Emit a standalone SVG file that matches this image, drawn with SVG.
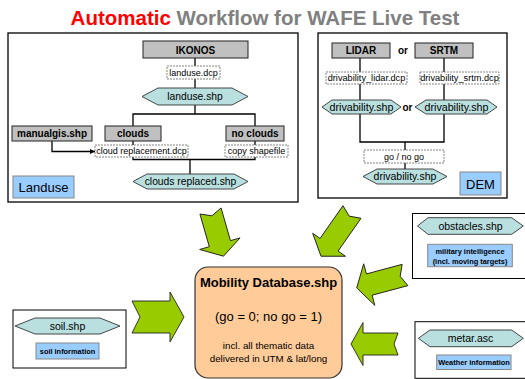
<svg xmlns="http://www.w3.org/2000/svg" width="525" height="379" viewBox="0 0 525 379">
<defs>
<marker id="ah" viewBox="0 0 6 6" refX="6" refY="3" markerWidth="5" markerHeight="5" orient="auto" markerUnits="userSpaceOnUse">
<path d="M0,0 L6,3 L0,6 Z" fill="#000"/>
</marker>
</defs>
<style>
text{font-family:"Liberation Sans",Arial,sans-serif;text-anchor:middle;fill:#000}
.panel{fill:#fff;stroke:#000;stroke-width:1.3}
.gray{fill:#c0c0c0;stroke:#222;stroke-width:1}
.dcp{fill:#fff;stroke:#777;stroke-width:0.9;stroke-dasharray:2 1}
.hex{fill:#b9dfdf;stroke:#333;stroke-width:0.9}
.lbl{fill:#99ccff;stroke:#888;stroke-width:1}
.arr{fill:#99cc00;stroke:#222;stroke-width:0.9;stroke-linejoin:miter}
.ln{fill:none;stroke:#000;stroke-width:1.3}
.b10{font-size:10px;font-weight:bold}
.t9{font-size:9px}
.t10{font-size:10.3px}
.b7{font-size:7.4px;font-weight:bold}
</style>
<rect width="525" height="379" fill="#fff"/>

<g id="title">
<text x="265" y="24.5" style="font-size:20.5px;font-weight:bold"><tspan fill="#ff0000">Automatic</tspan><tspan fill="#808080"> Workflow for WAFE Live Test</tspan></text>
</g>

<g id="landuse-panel">
<rect class="panel" x="8" y="33" width="290" height="169"/>
</g>
<g id="dem-panel">
<rect class="panel" x="318" y="33" width="189" height="165"/>
</g>

<g id="connectors">
<line class="ln" x1="195" y1="58" x2="195" y2="66"/>
<line class="ln" x1="195" y1="79" x2="195" y2="88"/>
<polyline class="ln" points="195,105 195,114"/>
<polyline class="ln" points="133,126 133,114 255,114 255,126"/>
<line class="ln" x1="133" y1="141" x2="133" y2="145"/>
<line class="ln" x1="255" y1="141" x2="255" y2="145"/>
<polyline class="ln" points="133,157 133,159.5 255,159.5 255,157"/>
<line class="ln" x1="190" y1="159.5" x2="190" y2="174"/>
<polyline class="ln" points="52,141 52,151.5 95,151.5" stroke-width="1" marker-end="url(#ah)"/>
<line class="ln" x1="360" y1="58" x2="360" y2="72"/>
<line class="ln" x1="444" y1="58" x2="444" y2="72"/>
<line class="ln" x1="360" y1="84" x2="360" y2="100"/>
<line class="ln" x1="444" y1="84" x2="444" y2="100"/>
<polyline class="ln" points="360,114 360,142 444,142 444,114"/>
<line class="ln" x1="405" y1="142" x2="405" y2="150"/>
<line class="ln" x1="405" y1="163" x2="405" y2="169"/>
</g>

<g id="ikonos">
<rect class="gray" x="143" y="41" width="105" height="17"/>
<text class="b10" x="195.5" y="53.5">IKONOS</text>
</g>
<g id="landuse-dcp">
<rect class="dcp" x="167" y="66" width="53" height="13"/>
<text class="t9" x="193.5" y="75.8">landuse.dcp</text>
</g>
<g id="landuse-shp">
<polygon class="hex" points="142,96.5 158,88 232,88 248,96.5 232,105 158,105"/>
<text class="t10" x="195" y="100.2">landuse.shp</text>
</g>
<g id="manualgis">
<rect class="gray" x="12" y="126" width="80" height="15"/>
<text class="b10" x="52" y="137">manualgis.shp</text>
</g>
<g id="clouds">
<rect class="gray" x="105" y="126" width="56" height="15"/>
<text class="b10" x="133" y="137">clouds</text>
</g>
<g id="noclouds">
<rect class="gray" x="226" y="126" width="58" height="15"/>
<text class="b10" x="255" y="137">no clouds</text>
</g>
<g id="cloud-replacement">
<rect class="dcp" x="95" y="145" width="93" height="12"/>
<text class="t9" x="141.5" y="154.3">cloud replacement.dcp</text>
</g>
<g id="copy-shapefile">
<rect class="dcp" x="225" y="145" width="63" height="12"/>
<text class="t9" x="256.5" y="154.3">copy shapefile</text>
</g>
<g id="clouds-replaced">
<polygon class="hex" points="133,181.5 147,174 234,174 248,181.5 234,189 147,189"/>
<text class="t10" x="190.5" y="185.2">clouds replaced.shp</text>
</g>
<g id="landuse-label">
<rect class="lbl" x="13" y="176" width="61" height="22"/>
<text x="43.5" y="192" style="font-size:13px">Landuse</text>
</g>

<g id="lidar">
<rect class="gray" x="332" y="43" width="58" height="15"/>
<text class="b10" x="361" y="54.3">LIDAR</text>
</g>
<g id="or1">
<text class="b10" x="403" y="54.3">or</text>
</g>
<g id="srtm">
<rect class="gray" x="415" y="43" width="58" height="15"/>
<text class="b10" x="444" y="54.3">SRTM</text>
</g>
<g id="lidar-dcp">
<rect class="dcp" x="326" y="72" width="81" height="12"/>
<text x="366.5" y="81.3" style="font-size:9.2px">drivability_lidar.dcp</text>
</g>
<g id="srtm-dcp">
<rect class="dcp" x="420" y="72" width="79" height="12"/>
<text x="459.5" y="81.3" style="font-size:9.2px">drivability_srtm.dcp</text>
</g>
<g id="drivability1">
<polygon class="hex" points="322,107 332,100 391,100 401,107 391,114 332,114"/>
<text x="361.5" y="111" style="font-size:10.7px">drivability.shp</text>
</g>
<g id="or2">
<text class="b10" x="407.5" y="111">or</text>
</g>
<g id="drivability2">
<polygon class="hex" points="415,107 426,100 487,100 497,107 487,114 426,114"/>
<text x="456.5" y="111" style="font-size:10.7px">drivability.shp</text>
</g>
<g id="gonogo">
<rect class="dcp" x="364" y="150" width="80" height="13"/>
<text class="t9" x="404" y="159.8">go / no go</text>
</g>
<g id="drivability3">
<polygon class="hex" points="363,176.5 377,169 433,169 447,176.5 433,184 377,184"/>
<text x="405" y="180.3" style="font-size:10.5px">drivability.shp</text>
</g>
<g id="dem-label">
<rect class="lbl" x="460" y="172" width="41" height="23"/>
<text x="480.5" y="188.5" style="font-size:13px">DEM</text>
</g>

<g id="arrows">
<path class="arr" transform="translate(210.5,211) rotate(74)" d="M0,-11 L34,-11 L34,-21 L47,0 L34,21 L34,11 L0,11 L5,0 Z"/>
<path class="arr" transform="translate(352,212) rotate(125)" d="M0,-11 L40,-11 L40,-20 L54,0 L40,20 L40,11 L0,11 L5,0 Z"/>
<path class="arr" transform="translate(405,275) rotate(165)" d="M0,-11 L37,-11 L37,-21.5 L50,0 L37,21.5 L37,11 L0,11 L5,0 Z"/>
<path class="arr" transform="translate(398,344) rotate(180)" d="M0,-11 L35,-11 L35,-21.5 L47,0 L35,21.5 L35,11 L0,11 L4,0 Z"/>
<path class="arr" transform="translate(132,317)" d="M0,-16 L38,-16 L38,-25 L52,0 L38,25 L38,16 L0,16 L8,0 Z"/>
</g>

<g id="mobility">
<rect x="195" y="267" width="147" height="111" rx="13" fill="#ffcc99" stroke="#333" stroke-width="1.2"/>
<text x="268.5" y="287" style="font-size:13px;font-weight:bold">Mobility Database.shp</text>
<text x="268.5" y="321" style="font-size:13px">(go = 0; no go = 1)</text>
<text x="268.5" y="349" style="font-size:9.8px">incl. all thematic data</text>
<text x="268.5" y="361.5" style="font-size:9.8px">delivered in UTM &amp; lat/long</text>
</g>

<g id="soil">
<rect x="13" y="310" width="113" height="58" fill="#fff" stroke="#000" stroke-width="1"/>
<polygon class="hex" points="15,326 35,318 100,318 120,326 100,334 35,334"/>
<text x="67.5" y="330" style="font-size:10.5px">soil.shp</text>
<rect class="lbl" x="36" y="343" width="63" height="16"/>
<text class="b7" x="67.5" y="354">soil information</text>
</g>

<g id="obstacles">
<rect x="412.5" y="213.5" width="120" height="65" fill="#fff" stroke="#000" stroke-width="1"/>
<polygon class="hex" points="417.5,226 428,217.7 511.7,217.7 523.3,226 511.7,234.3 428,234.3"/>
<text x="470.5" y="230" style="font-size:10.5px">obstacles.shp</text>
<rect class="lbl" x="427.7" y="244.3" width="84.6" height="22.4"/>
<text class="b7" x="470" y="254">military intelligence</text>
<text class="b7" x="470" y="263.5">(incl. moving targets)</text>
</g>

<g id="metar">
<rect x="415" y="321.7" width="120" height="56.6" fill="#fff" stroke="#000" stroke-width="1"/>
<polygon class="hex" points="418.3,338.3 430,330 511.7,330 523.3,338.3 511.7,346.7 430,346.7"/>
<text x="470.5" y="342.2" style="font-size:10.5px">metar.asc</text>
<rect class="lbl" x="436.7" y="355" width="74.3" height="14.5"/>
<text class="b7" x="474" y="365">Weather information</text>
</g>
</svg>
